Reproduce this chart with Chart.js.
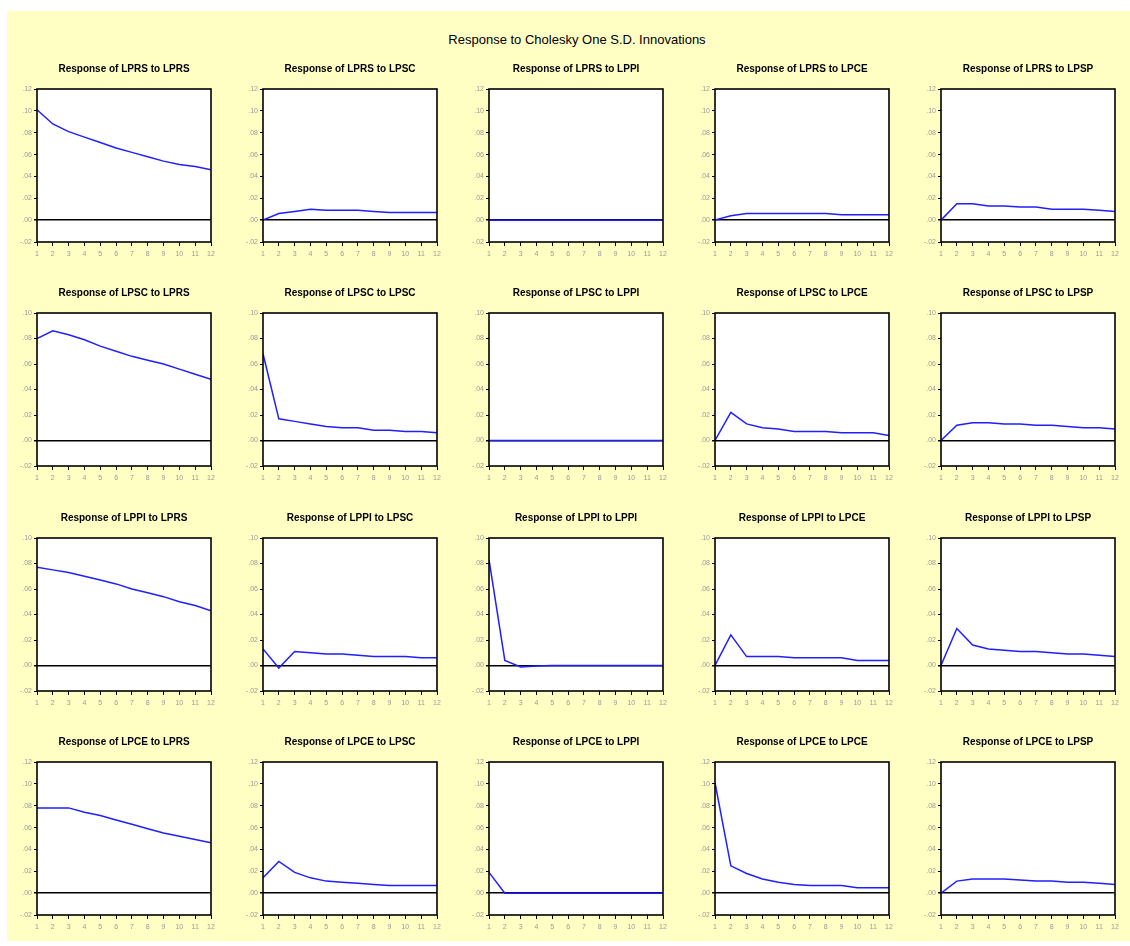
<!DOCTYPE html>
<html>
<head>
<meta charset="utf-8">
<script src="https://cdn.jsdelivr.net/npm/chart.js@4.4.1/dist/chart.umd.min.js"></script>
<style>
  html, body { margin: 0; padding: 0; background: #ffffff; }
  #frame { position: absolute; left: 7px; top: 11px; width: 1123px; height: 930px; background: #ffffc4; }
  #heading { position: absolute; left: 0; top: 32px; width: 1154px; text-align: center;
             font: 13px "Liberation Sans", Arial, sans-serif; color: #000; }
  .panel { position: absolute; }
</style>
</head>
<body>
<div id="frame"></div>
<div id="heading">Response to Cholesky One S.D. Innovations</div>
<div id="panels"></div>
<script>
// Impulse horizons (periods after the shock)
const horizons = [1, 2, 3, 4, 5, 6, 7, 8, 9, 10, 11, 12];
// Variables: the first four respond, all five are shocked
const responders = ['LPRS', 'LPSC', 'LPPI', 'LPCE'];
const shocks = ['LPRS', 'LPSC', 'LPPI', 'LPCE', 'LPSP'];
// Upper y limit for each row of panels; all rows start at -.02
const rowYMax = [0.12, 0.10, 0.10, 0.12];
const yMin = -0.02;

// Responses of LPRS
const lprsToLprs = [0.101, 0.088, 0.081, 0.076, 0.071, 0.066, 0.062, 0.058, 0.054, 0.051, 0.049, 0.046];
const lprsToLpsc = [0.000, 0.006, 0.008, 0.010, 0.009, 0.009, 0.009, 0.008, 0.007, 0.007, 0.007, 0.007];
const lprsToLppi = [0.000, 0.000, 0.000, 0.000, 0.000, 0.000, 0.000, 0.000, 0.000, 0.000, 0.000, 0.000];
const lprsToLpce = [0.000, 0.004, 0.006, 0.006, 0.006, 0.006, 0.006, 0.006, 0.005, 0.005, 0.005, 0.005];
const lprsToLpsp = [0.000, 0.015, 0.015, 0.013, 0.013, 0.012, 0.012, 0.010, 0.010, 0.010, 0.009, 0.008];

// Responses of LPSC
const lpscToLprs = [0.080, 0.086, 0.083, 0.079, 0.074, 0.070, 0.066, 0.063, 0.060, 0.056, 0.052, 0.048];
const lpscToLpsc = [0.068, 0.017, 0.015, 0.013, 0.011, 0.010, 0.010, 0.008, 0.008, 0.007, 0.007, 0.006];
const lpscToLppi = [0.000, 0.000, 0.000, 0.000, 0.000, 0.000, 0.000, 0.000, 0.000, 0.000, 0.000, 0.000];
const lpscToLpce = [0.000, 0.022, 0.013, 0.010, 0.009, 0.007, 0.007, 0.007, 0.006, 0.006, 0.006, 0.004];
const lpscToLpsp = [0.000, 0.012, 0.014, 0.014, 0.013, 0.013, 0.012, 0.012, 0.011, 0.010, 0.010, 0.009];

// Responses of LPPI
const lppiToLprs = [0.077, 0.075, 0.073, 0.070, 0.067, 0.064, 0.060, 0.057, 0.054, 0.050, 0.047, 0.043];
const lppiToLpsc = [0.013, -0.002, 0.011, 0.010, 0.009, 0.009, 0.008, 0.007, 0.007, 0.007, 0.006, 0.006];
const lppiToLppi = [0.083, 0.004, -0.0012, -0.0003, 0.000, 0.000, 0.000, 0.000, 0.000, 0.000, 0.000, 0.000];
const lppiToLpce = [0.000, 0.024, 0.007, 0.007, 0.007, 0.006, 0.006, 0.006, 0.006, 0.004, 0.004, 0.004];
const lppiToLpsp = [0.000, 0.029, 0.016, 0.013, 0.012, 0.011, 0.011, 0.010, 0.009, 0.009, 0.008, 0.007];

// Responses of LPCE
const lpceToLprs = [0.078, 0.078, 0.078, 0.074, 0.071, 0.067, 0.063, 0.059, 0.055, 0.052, 0.049, 0.046];
const lpceToLpsc = [0.014, 0.029, 0.019, 0.014, 0.011, 0.010, 0.009, 0.008, 0.007, 0.007, 0.007, 0.007];
const lpceToLppi = [0.019, 0.000, 0.000, 0.000, 0.000, 0.000, 0.000, 0.000, 0.000, 0.000, 0.000, 0.000];
const lpceToLpce = [0.101, 0.025, 0.018, 0.013, 0.010, 0.008, 0.007, 0.007, 0.007, 0.005, 0.005, 0.005];
const lpceToLpsp = [0.000, 0.011, 0.013, 0.013, 0.013, 0.012, 0.011, 0.011, 0.010, 0.010, 0.009, 0.008];

const responseGrid = [
  [lprsToLprs, lprsToLpsc, lprsToLppi, lprsToLpce, lprsToLpsp],
  [lpscToLprs, lpscToLpsc, lpscToLppi, lpscToLpce, lpscToLpsp],
  [lppiToLprs, lppiToLpsc, lppiToLppi, lppiToLpce, lppiToLpsp],
  [lpceToLprs, lpceToLpsc, lpceToLppi, lpceToLpce, lpceToLpsp]
];

// Panel geometry (plot box position and size inside the page)
const BOX_W = 174, BOX_H = 153;
const AXIS_W = 37, TITLE_H = 30, XAXIS_H = 24, RIGHT_PAD = 8;
const colLeft = [37, 263, 489, 715, 941];
const rowTop = [89, 313, 538, 762];

// White plot area with a black frame around it
const plotFrame = {
  id: 'plotFrame',
  beforeDraw(chart) {
    const a = chart.chartArea, ctx = chart.ctx;
    ctx.save();
    ctx.fillStyle = '#ffffff';
    ctx.fillRect(a.left, a.top, a.right - a.left, a.bottom - a.top);
    ctx.restore();
  },
  afterDatasetsDraw(chart) {
    const a = chart.chartArea, ctx = chart.ctx;
    ctx.save();
    ctx.strokeStyle = '#000000';
    ctx.lineWidth = 1.6;
    ctx.strokeRect(a.left, a.top, a.right - a.left, a.bottom - a.top);
    ctx.restore();
  }
};

function fmtTick(v) {
  const n = Math.round(v * 100);
  const s = '.' + String(Math.abs(n)).padStart(2, '0');
  return n < 0 ? '-' + s : s;
}

const host = document.getElementById('panels');
responders.forEach((resp, r) => {
  shocks.forEach((shock, c) => {
    const canvas = document.createElement('canvas');
    const w = AXIS_W + BOX_W + RIGHT_PAD, h = TITLE_H + BOX_H + XAXIS_H;
    canvas.width = w; canvas.height = h;
    canvas.className = 'panel';
    canvas.style.left = (colLeft[c] - AXIS_W) + 'px';
    canvas.style.top = (rowTop[r] - TITLE_H) + 'px';
    canvas.style.width = w + 'px';
    canvas.style.height = h + 'px';
    host.appendChild(canvas);

    const values = responseGrid[r][c];
    new Chart(canvas, {
      type: 'line',
      data: {
        datasets: [{
          data: horizons.map((x, i) => ({ x, y: values[i] })),
          borderColor: '#1f1fff',
          borderWidth: 1.5,
          pointRadius: 0,
          tension: 0,
          fill: false
        }]
      },
      options: {
        responsive: false,
        animation: false,
        devicePixelRatio: 1,
        layout: { padding: { top: 0, right: RIGHT_PAD, bottom: 0, left: 0 } },
        plugins: {
          legend: { display: false },
          tooltip: { enabled: false },
          title: {
            display: true,
            fullSize: false,
            text: 'Response of ' + resp + ' to ' + shock,
            color: '#000000',
            font: { family: '"Liberation Sans", Arial, sans-serif', size: 10, weight: 'bold', lineHeight: 1.2 },
            padding: { top: 4, bottom: 14 }
          }
        },
        scales: {
          x: {
            type: 'linear',
            min: 1, max: 12,
            afterFit(s) { s.height = XAXIS_H; },
            border: { display: false },
            grid: { drawOnChartArea: false, color: '#000000', tickLength: 4, lineWidth: 1 },
            ticks: {
              stepSize: 1, autoSkip: false, maxRotation: 0, padding: 4,
              color: '#9a9a9a',
              font: { family: '"Liberation Sans", Arial, sans-serif', size: 7 }
            }
          },
          y: {
            min: yMin, max: rowYMax[r],
            afterFit(s) { s.width = AXIS_W; },
            border: { display: false },
            grid: {
              color: ctx => (ctx.tick && Math.abs(ctx.tick.value) < 1e-9) ? '#000000' : 'rgba(0,0,0,0)',
              lineWidth: ctx => (ctx.tick && Math.abs(ctx.tick.value) < 1e-9) ? 1.5 : 1,
              tickColor: '#000000',
              tickLength: 3
            },
            ticks: {
              stepSize: 0.02, padding: 2,
              color: '#9a9a9a',
              font: { family: '"Liberation Sans", Arial, sans-serif', size: 7 },
              callback: v => fmtTick(v)
            }
          }
        }
      },
      plugins: [plotFrame]
    });
  });
});
</script>
</body>
</html>
